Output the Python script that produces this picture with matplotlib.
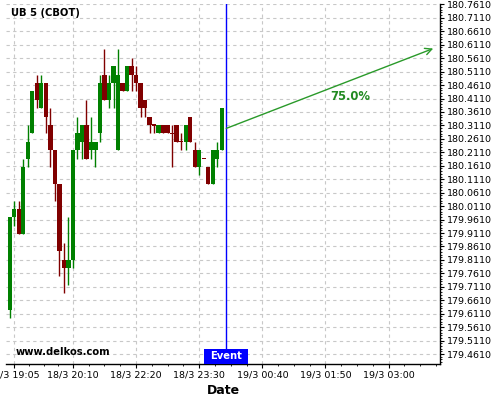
import numpy as np
import matplotlib
matplotlib.use('Agg')
import matplotlib.pyplot as plt
from matplotlib.patches import Rectangle
import matplotlib.transforms as mtransforms

# 5 minute candles, UB 5 (CBOT)
opens = [179.625, 179.96875, 180.0, 179.90625, 180.1875, 180.28125, 180.46875, 180.375,
         180.46875, 180.3125, 180.21875, 180.09375, 179.8125, 179.78125, 179.8125, 180.21875,
         180.25, 180.3125, 180.21875, 180.21875, 180.28125, 180.5, 180.40625, 180.46875,
         180.21875, 180.46875, 180.4375, 180.53125, 180.5, 180.46875, 180.40625, 180.34375,
         180.3125, 180.28125, 180.3125, 180.3125, 180.28125, 180.3125, 180.25, 180.25,
         180.34375, 180.21875, 180.15625, 180.1875, 180.15625, 180.09375, 180.1875, 180.21875]
highs = [179.96875, 180.03125, 180.03125, 180.1875, 180.3125, 180.4375, 180.5, 180.5,
         180.46875, 180.375, 180.21875, 180.09375, 179.875, 179.96875, 180.21875, 180.34375,
         180.3125, 180.40625, 180.34375, 180.25, 180.5, 180.59375, 180.5, 180.53125,
         180.59375, 180.46875, 180.53125, 180.5625, 180.53125, 180.46875, 180.40625, 180.34375,
         180.3125, 180.3125, 180.3125, 180.3125, 180.3125, 180.3125, 180.28125, 180.3125,
         180.34375, 180.25, 180.21875, 180.1875, 180.15625, 180.21875, 180.25, 180.375]
lows = [179.59375, 179.9375, 179.90625, 179.90625, 180.15625, 180.28125, 180.375, 180.375,
        180.28125, 180.15625, 180.03125, 179.75, 179.6875, 179.71875, 179.78125, 180.1875,
        180.1875, 180.1875, 180.1875, 180.15625, 180.25, 180.40625, 180.375, 180.375,
        180.21875, 180.4375, 180.4375, 180.4375, 180.4375, 180.34375, 180.34375, 180.28125,
        180.28125, 180.28125, 180.28125, 180.28125, 180.15625, 180.25, 180.21875, 180.21875,
        180.25, 180.15625, 180.125, 180.1875, 180.09375, 180.09375, 180.15625, 180.21875]
closes = [179.96875, 180.0, 179.90625, 180.15625, 180.25, 180.4375, 180.40625, 180.46875,
          180.34375, 180.21875, 180.09375, 179.84375, 179.78125, 179.8125, 180.21875, 180.28125,
          180.3125, 180.1875, 180.25, 180.25, 180.46875, 180.40625, 180.46875, 180.53125,
          180.5, 180.4375, 180.53125, 180.5, 180.46875, 180.375, 180.375, 180.3125,
          180.3125, 180.3125, 180.28125, 180.28125, 180.28125, 180.25, 180.25, 180.3125,
          180.25, 180.15625, 180.21875, 180.1875, 180.09375, 180.21875, 180.21875, 180.375]

tick_idx = [1, 14, 28, 42, 56, 70, 84]
tick_labels = ['18/3 19:05', '18/3 20:10', '18/3 22:20', '18/3 23:30',
               '19/3 00:40', '19/3 01:50', '19/3 03:00']
y_ticks = np.arange(179.461, 180.7611, 0.05)

event_idx = 48
arrow_start = (48, 180.30)
arrow_end = (93.9, 180.597)
prob_text = '75.0%'
prob_pos = (75.4, 180.42)

green = '#008000'
red = '#800000'

fig = plt.figure(figsize=(5, 4), dpi=100)
ax = fig.add_axes([0.012, 0.09, 0.868, 0.901])

x = np.arange(len(opens))
for i in x:
	o, h, l, c = opens[i], highs[i], lows[i], closes[i]
	col = green if c > o else red
	ax.vlines(i, l, h, color=col, lw=1.0, zorder=3)
	hgt = max(abs(c - o), 0.004)
	bot = min(o, c) if c != o else o - 0.002
	ax.bar(i, hgt, bottom=bot, width=0.95, color=col, edgecolor='none', zorder=4)

ax.set_xlim(-0.84, 95.4)
ax.set_ylim(179.424, 180.764)

ax.set_xticks(tick_idx)
ax.set_xticklabels(tick_labels, fontsize=6.8)
minor = []
for a, b in zip(tick_idx[:-1], tick_idx[1:]):
	minor += [a + (b - a) * k / 4 for k in (1, 2, 3)]
minor += [84 + 3.5 * k for k in (1, 2, 3)]
ax.set_xticks(minor, minor=True)

ax.yaxis.tick_right()
ax.set_yticks(y_ticks)
ax.set_yticklabels(['%.4f' % v for v in y_ticks], fontsize=6.8)
ax.set_yticks(np.arange(179.431, 180.7611, 0.01), minor=True)

ax.tick_params(axis='both', which='major', length=3, width=0.8, pad=2, colors='black')
ax.tick_params(axis='both', which='minor', length=1.5, width=0.6)

for s in ['left', 'top']:
	ax.spines[s].set_visible(False)
for s in ['right', 'bottom']:
	ax.spines[s].set_linewidth(1.0)

ax.grid(True, which='major', color='#c8c8c8', linestyle=(0, (3, 3)), linewidth=0.8)
ax.set_axisbelow(True)

ax.set_xlabel('Date', fontsize=9, fontweight='bold', labelpad=3)

# event marker
ax.axvline(event_idx, color='blue', lw=1.0, zorder=5)
trans = mtransforms.blended_transform_factory(ax.transData, ax.transAxes)
ax.add_patch(Rectangle((event_idx - 4.9, 0.0), 9.8, 0.043, transform=trans,
                       facecolor='blue', edgecolor='none', zorder=6, clip_on=False))
ax.text(event_idx, 0.021, 'Event', transform=trans, ha='center', va='center',
        color='white', fontsize=7.2, fontweight='bold', zorder=7)

ax.annotate('', xy=arrow_end, xytext=arrow_start,
            arrowprops=dict(arrowstyle='->', color='#2a9a2a', lw=1.0,
                            mutation_scale=12, shrinkA=0, shrinkB=0), zorder=6)
ax.text(prob_pos[0], prob_pos[1], prob_text, color='#228B22', fontsize=8.4,
        fontweight='bold', ha='center', va='center')

ax.text(0.012, 0.974, 'UB 5 (CBOT)', transform=ax.transAxes, fontsize=7.2,
        fontweight='bold', ha='left', va='center')
ax.text(0.022, 0.034, 'www.delkos.com', transform=ax.transAxes, fontsize=7.2,
        fontweight='bold', ha='left', va='center')

fig.savefig('out.png', dpi=100)
